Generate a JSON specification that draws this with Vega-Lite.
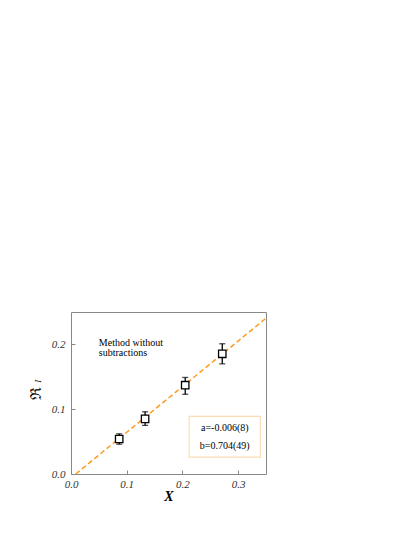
{
  "$schema": "https://vega.github.io/schema/vega-lite/v6.json",
  "autosize": {"type": "none"},
  "padding": {"left": 71, "top": 312, "right": 148, "bottom": 61},
  "width": 195,
  "height": 162,
  "background": "white",
  "datasets": {
    "points": [
      {"x": 0.0865, "y": 0.054, "lo": 0.046, "hi": 0.062},
      {"x": 0.133, "y": 0.085, "lo": 0.075, "hi": 0.096},
      {"x": 0.205, "y": 0.137, "lo": 0.123, "hi": 0.149},
      {"x": 0.2715, "y": 0.1855, "lo": 0.170, "hi": 0.201}
    ],
    "fit": [
      {"x": 0.0085, "y": 0.0},
      {"x": 0.35, "y": 0.2404}
    ],
    "box": [
      {"x1": 0.212, "x2": 0.34, "y1": 0.026, "y2": 0.089}
    ],
    "notes": [
      {"x": 0.05, "y": 0.202, "text": "Method without"},
      {"x": 0.05, "y": 0.187, "text": "subtractions"}
    ],
    "params": [
      {"x": 0.276, "y": 0.0716, "text": "a=-0.006(8)"},
      {"x": 0.276, "y": 0.0427, "text": "b=0.704(49)"}
    ]
  },
  "layer": [
    {
      "data": {"name": "fit"},
      "mark": {"type": "line", "color": "#ff9a1f", "strokeDash": [5, 3], "strokeWidth": 1.5},
      "encoding": {
        "x": {
          "field": "x", "type": "quantitative",
          "scale": {"domain": [0, 0.35], "nice": false, "zero": false},
          "axis": {
            "values": [0, 0.05, 0.1, 0.15, 0.2, 0.25, 0.3, 0.35],
            "labelExpr": "round(datum.value * 100) % 10 == 0 ? format(datum.value, '.1f') : ''",
            "labelPadding": 8,
            "title": "X"
          }
        },
        "y": {
          "field": "y", "type": "quantitative",
          "scale": {"domain": [0, 0.25], "nice": false, "zero": false},
          "axis": {
            "values": [0, 0.025, 0.05, 0.075, 0.1, 0.125, 0.15, 0.175, 0.2, 0.225, 0.25],
            "labelExpr": "round(datum.value * 1000) % 100 == 0 ? format(datum.value, '.1f') : ''",
            "labelPadding": 10,
            "title": "ℜ",
            "titleFontSize": 15,
            "titleFontWeight": "normal",
            "titleFontStyle": "normal",
            "titlePadding": 8
          }
        }
      }
    },
    {
      "data": {"name": "points"},
      "mark": {"type": "rule", "color": "black", "strokeWidth": 1.3},
      "encoding": {
        "x": {"field": "x", "type": "quantitative"},
        "y": {"field": "lo", "type": "quantitative"},
        "y2": {"field": "hi"}
      }
    },
    {
      "data": {"name": "points"},
      "mark": {"type": "tick", "orient": "horizontal", "color": "black", "size": 6, "thickness": 1.3},
      "encoding": {
        "x": {"field": "x", "type": "quantitative"},
        "y": {"field": "lo", "type": "quantitative"}
      }
    },
    {
      "data": {"name": "points"},
      "mark": {"type": "tick", "orient": "horizontal", "color": "black", "size": 6, "thickness": 1.3},
      "encoding": {
        "x": {"field": "x", "type": "quantitative"},
        "y": {"field": "hi", "type": "quantitative"}
      }
    },
    {
      "data": {"name": "points"},
      "mark": {"type": "point", "shape": "square", "filled": false, "fill": "white", "fillOpacity": 1, "stroke": "black", "strokeWidth": 1.3, "size": 55, "opacity": 1},
      "encoding": {
        "x": {"field": "x", "type": "quantitative"},
        "y": {"field": "y", "type": "quantitative"}
      }
    },
    {
      "data": {"name": "box"},
      "mark": {"type": "rect", "fill": null, "stroke": "#fcdcb4", "strokeWidth": 1.2},
      "encoding": {
        "x": {"field": "x1", "type": "quantitative"},
        "x2": {"field": "x2"},
        "y": {"field": "y1", "type": "quantitative"},
        "y2": {"field": "y2"}
      }
    },
    {
      "data": {"name": "notes"},
      "mark": {"type": "text", "align": "left", "baseline": "middle", "font": "Liberation Serif", "fontSize": 10, "color": "black"},
      "encoding": {
        "x": {"field": "x", "type": "quantitative"},
        "y": {"field": "y", "type": "quantitative"},
        "text": {"field": "text"}
      }
    },
    {
      "data": {"name": "params"},
      "mark": {"type": "text", "align": "center", "baseline": "middle", "font": "Liberation Serif", "fontSize": 10, "color": "black"},
      "encoding": {
        "x": {"field": "x", "type": "quantitative"},
        "y": {"field": "y", "type": "quantitative"},
        "text": {"field": "text"}
      }
    },
    {
      "data": {"values": [{"x": -0.06, "y": 0.143, "text": "I"}]},
      "mark": {"type": "text", "angle": 270, "align": "center", "baseline": "middle", "font": "Liberation Serif", "fontStyle": "italic", "fontSize": 9, "color": "black", "clip": false},
      "encoding": {
        "x": {"field": "x", "type": "quantitative"},
        "y": {"field": "y", "type": "quantitative"},
        "text": {"field": "text"}
      }
    }
  ],
  "config": {
    "view": {"stroke": "#888888", "strokeWidth": 1},
    "axis": {
      "domain": false,
      "grid": false,
      "tickSize": -4,
      "tickColor": "#888888",
      "tickWidth": 1,
      "labelFlush": false,
      "labelFont": "Liberation Serif",
      "labelFontStyle": "italic",
      "labelFontSize": 11,
      "labelColor": "#333333",
      "titleFont": "Liberation Serif",
      "titleColor": "black"
    },
    "axisX": {
      "titleFontSize": 14,
      "titleFontWeight": "bold",
      "titleFontStyle": "italic",
      "titlePadding": 0
    }
  }
}
